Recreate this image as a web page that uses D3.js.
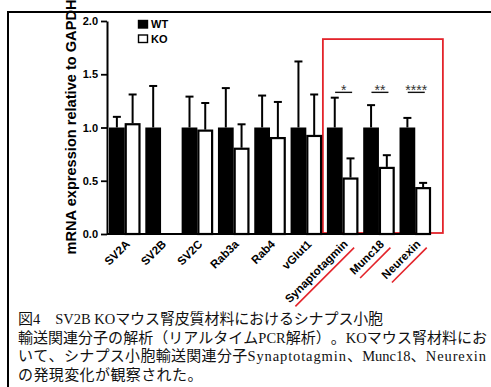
<!DOCTYPE html>
<html>
<head>
<meta charset="utf-8">
<script src="https://cdn.jsdelivr.net/npm/d3@7"></script>
<style>
  body { margin: 0; background: #fff; }
  svg { display: block; }
</style>
</head>
<body>
<div id="chart"></div>
<script>
const categories = ["SV2A", "SV2B", "SV2C", "Rab3a", "Rab4", "vGlut1", "Synaptotagmin", "Munc18", "Neurexin"];
const series = ["WT", "KO"];
const wtMean = [1.0, 1.0, 1.0, 1.0, 1.0, 1.0, 1.0, 1.0, 1.0];
const wtTop = [1.10, 1.39, 1.29, 1.37, 1.30, 1.62, 1.28, 1.21, 1.09];
const koMean = [1.04, 0, 0.98, 0.81, 0.91, 0.93, 0.53, 0.63, 0.44];
const koTop = [1.31, null, 1.23, 1.03, 1.24, 1.31, 0.71, 0.74, 0.48];
const yTicks = [0, 0.5, 1.0, 1.5, 2.0];
const highlighted = ["Synaptotagmin", "Munc18", "Neurexin"];
const significance = [
  { cat: "Synaptotagmin", stars: "*" },
  { cat: "Munc18", stars: "**" },
  { cat: "Neurexin", stars: "****" }
];
const caption = [
  "図4　SV2B KOマウス腎皮質材料におけるシナプス小胞",
  "輸送関連分子の解析（リアルタイムPCR解析）。KOマウス腎材料にお",
  "いて、シナプス小胞輸送関連分子Synaptotagmin、Munc18、Neurexin",
  "の発現変化が観察された。"
];

const width = 491;
const height = 387;
const margin = { top: 21, left: 107, bottom: 153, right: 60 };
const plotHeight = height - margin.top - margin.bottom; // 213

const svg = d3.select("#chart")
  .append("svg")
  .attr("width", width)
  .attr("height", height);

const sans = "'Liberation Sans', Arial, sans-serif";
const red = "#e3242b";

const yScale = d3.scaleLinear().domain([0, 2]).range([plotHeight, 0]);

const xScale = d3.scaleBand()
  .domain(categories)
  .range([2, 324])
  .paddingInner(0.133)
  .paddingOuter(0);

const xSub = d3.scaleBand()
  .domain(series)
  .range([0, xScale.bandwidth()]);

const plotG = svg.append("g")
  .attr("transform", `translate(${margin.left},${margin.top})`);

// red highlight box
plotG.append("rect")
  .attr("x", xScale("Synaptotagmin") - 4)
  .attr("y", yScale(1.83))
  .attr("width", 120)
  .attr("height", plotHeight - yScale(1.83) - 1)
  .attr("fill", "none")
  .attr("stroke", red)
  .attr("stroke-width", 1.8);

const rows = categories.map((c, i) => ({
  cat: c, wt: wtMean[i], wtErr: wtTop[i], ko: koMean[i], koErr: koTop[i]
}));

// error bars first, bars drawn over them
function errBar(g, x, y0, y1) {
  g.append("line")
    .attr("x1", x).attr("x2", x)
    .attr("y1", yScale(y0)).attr("y2", yScale(y1))
    .attr("stroke", "#000").attr("stroke-width", 2);
  g.append("line")
    .attr("x1", x - 4).attr("x2", x + 4)
    .attr("y1", yScale(y1)).attr("y2", yScale(y1))
    .attr("stroke", "#000").attr("stroke-width", 2);
}

rows.forEach(r => {
  const gx = xScale(r.cat);
  errBar(plotG, gx + xSub("WT") + xSub.bandwidth() / 2, r.wt, r.wtErr);
  if (r.koErr != null) {
    errBar(plotG, gx + xSub("KO") + xSub.bandwidth() / 2, r.ko, r.koErr);
  }
});

plotG.selectAll("rect.wt")
  .data(rows)
  .enter()
  .append("rect")
  .attr("class", "wt")
  .attr("x", d => xScale(d.cat) + xSub("WT"))
  .attr("y", d => yScale(d.wt))
  .attr("width", xSub.bandwidth())
  .attr("height", d => plotHeight - yScale(d.wt))
  .attr("fill", "#000");

plotG.selectAll("rect.ko")
  .data(rows.filter(d => d.ko > 0))
  .enter()
  .append("rect")
  .attr("class", "ko")
  .attr("x", d => xScale(d.cat) + xSub("KO") + 1)
  .attr("y", d => yScale(d.ko) + 1)
  .attr("width", xSub.bandwidth() - 2)
  .attr("height", d => plotHeight - yScale(d.ko) - 1)
  .attr("fill", "#fff")
  .attr("stroke", "#000")
  .attr("stroke-width", 2.2);

// significance marks
significance.forEach(s => {
  const cx = xScale(s.cat) + xScale.bandwidth() / 2 + 1;
  plotG.append("line")
    .attr("x1", cx - 8.5).attr("x2", cx + 8.5)
    .attr("y1", yScale(1.33)).attr("y2", yScale(1.33))
    .attr("stroke", "#111").attr("stroke-width", 1.4);
  plotG.append("text")
    .attr("x", cx)
    .attr("y", yScale(1.33) + 3)
    .attr("text-anchor", "middle")
    .attr("font-family", sans)
    .attr("font-size", 14)
    .attr("fill", "#333")
    .text(s.stars);
});

// axes
const yAxis = d3.axisLeft(yScale)
  .tickValues(yTicks)
  .tickFormat(d3.format(".1f"))
  .tickSize(6)
  .tickSizeOuter(0);

const yAxisG = plotG.append("g").call(yAxis);
yAxisG.select(".domain").attr("stroke-width", 2);
yAxisG.selectAll(".tick line").attr("stroke-width", 1.8);
yAxisG.selectAll(".tick text")
  .attr("font-family", sans)
  .attr("font-size", 11)
  .attr("font-weight", "bold")
  .attr("x", -9);

const xAxis = d3.axisBottom(xScale).tickSize(0).tickSizeOuter(0).tickFormat("");
const xAxisG = plotG.append("g")
  .attr("transform", `translate(0,${plotHeight})`)
  .call(xAxis);
xAxisG.select(".domain").attr("d", "M0,0H323").attr("stroke-width", 2);

// x labels
categories.forEach(c => {
  const cx = xScale(c) + xScale.bandwidth() / 2 + 3;
  const g = plotG.append("g")
    .attr("transform", `translate(${cx},${plotHeight + 8}) rotate(-45)`);
  const t = g.append("text")
    .attr("text-anchor", "end")
    .attr("dy", "0.35em")
    .attr("font-family", sans)
    .attr("font-size", 11.5)
    .attr("font-weight", "bold")
    .text(c);
  if (highlighted.includes(c)) {
    const len = t.node().getComputedTextLength();
    g.append("line")
      .attr("x1", -len + 2).attr("x2", 2)
      .attr("y1", 10).attr("y2", 10)
      .attr("stroke", red)
      .attr("stroke-width", 1.6);
  }
});

// y label
svg.append("text")
  .attr("transform", "translate(76,127) rotate(-90)")
  .attr("text-anchor", "middle")
  .attr("font-family", sans)
  .attr("font-size", 14.6)
  .attr("font-weight", "bold")
  .text("mRNA expression relative to GAPDH");

// legend
const legend = svg.append("g").attr("transform", "translate(138,20)");
series.forEach((s, i) => {
  legend.append("rect")
    .attr("x", 0.5)
    .attr("y", i * 14.5 + 0.5)
    .attr("width", 9)
    .attr("height", 7.5)
    .attr("fill", s === "WT" ? "#000" : "#fff")
    .attr("stroke", "#000")
    .attr("stroke-width", 1.4);
  legend.append("text")
    .attr("x", 13)
    .attr("y", i * 14.5 + 8)
    .attr("font-family", sans)
    .attr("font-size", 11)
    .attr("font-weight", "bold")
    .text(s);
});

// frame
svg.append("line")
  .attr("x1", 8).attr("x2", width)
  .attr("y1", 12).attr("y2", 12)
  .attr("stroke", "#000").attr("stroke-width", 2);
svg.append("line")
  .attr("x1", 8).attr("x2", 8)
  .attr("y1", 11).attr("y2", height)
  .attr("stroke", "#000").attr("stroke-width", 2);

// caption: CJK in full-width cells, latin runs at least half-width cells
const capFont = "'Liberation Serif', 'Noto Sans CJK JP', serif";
const latinSize = 14.5;
const capLengths = [365, 469, 469, null];
const isLatin = ch => ch.charCodeAt(0) < 0x2000;
caption.forEach((line, i) => {
  const y = 324 + i * 18.7;
  const runs = [];
  Array.from(line).forEach(ch => {
    const lat = isLatin(ch);
    const last = runs[runs.length - 1];
    if (last && last.lat === lat) last.text += ch;
    else runs.push({ lat, text: ch });
  });
  runs.forEach(r => {
    r.n = Array.from(r.text).length;
    if (r.lat) {
      const probe = svg.append("text")
        .attr("font-family", capFont)
        .attr("font-size", latinSize)
        .text(r.text);
      r.nat = probe.node().getComputedTextLength();
      probe.remove();
    }
  });
  const runWidth = (r, em) => r.lat ? Math.max(r.nat, r.n * em / 2) : r.n * em;
  let em = 15.4;
  if (capLengths[i]) {
    for (let k = 0; k < 8; k++) {
      let fixed = 0, units = 0;
      runs.forEach(r => {
        if (r.lat && r.nat > r.n * em / 2) fixed += r.nat;
        else units += r.lat ? r.n / 2 : r.n;
      });
      em = (capLengths[i] - fixed) / units;
    }
  }
  let acc = 18;
  runs.forEach(r => {
    const w = runWidth(r, em);
    if (r.lat) {
      if (r.text.trim().length) {
        const t = svg.append("text")
          .attr("x", acc)
          .attr("y", y)
          .attr("font-family", capFont)
          .attr("font-size", latinSize)
          .attr("fill", "#111")
          .text(r.text);
        if (w > r.nat + 1) {
          t.attr("textLength", w - 1).attr("lengthAdjust", "spacing");
        }
      }
    } else {
      const xs = d3.range(r.n).map(k => (acc + k * em).toFixed(1));
      svg.append("text")
        .attr("x", xs.join(" "))
        .attr("y", y)
        .attr("font-family", capFont)
        .attr("font-size", 15)
        .attr("fill", "#111")
        .text(r.text);
    }
    acc += w;
  });
});
</script>
</body>
</html>
